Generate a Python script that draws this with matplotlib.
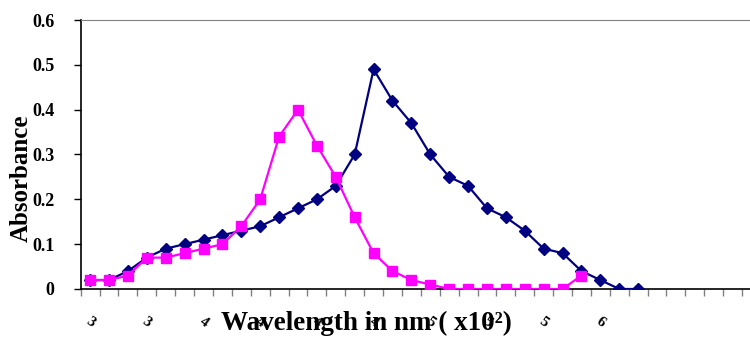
import matplotlib.pyplot as plt

plt.rcParams['font.family'] = 'Liberation Serif'
plt.rcParams['font.weight'] = 'bold'

# absorbance readings, one per wavelength step
serie_azul = [0.02, 0.02, 0.04, 0.07, 0.09, 0.10, 0.11, 0.12, 0.13, 0.14,
              0.16, 0.18, 0.20, 0.23, 0.30, 0.49, 0.42, 0.37, 0.30, 0.25,
              0.23, 0.18, 0.16, 0.13, 0.09, 0.08, 0.04, 0.02, 0.0, 0.0]
serie_rosa = [0.02, 0.02, 0.03, 0.07, 0.07, 0.08, 0.09, 0.10, 0.14, 0.20,
              0.34, 0.40, 0.32, 0.25, 0.16, 0.08, 0.04, 0.02, 0.01, 0.0,
              0.0, 0.0, 0.0, 0.0, 0.0, 0.0, 0.03]
n_categorias = 36
rotulos_x = ['3', '3', '4', '4', '4', '4', '5', '5', '5', '6']
y_ticks = [0, 0.1, 0.2, 0.3, 0.4, 0.5, 0.6]
y_labels = ['0', '0.1', '0.2', '0.3', '0.4', '0.5', '0.6']

fig = plt.figure(figsize=(7.5, 3.39), dpi=100)
ax = fig.add_axes([0.1076, 0.1475, 0.907, 0.7935])

x_azul = [i + 0.5 for i in range(len(serie_azul))]
x_rosa = [i + 0.5 for i in range(len(serie_rosa))]

ax.plot(x_azul, serie_azul, color='#000080', marker='D', markersize=6,
        linewidth=1.6, zorder=3)
ax.plot(x_rosa, serie_rosa, color='#FF00FF', marker='s', markersize=6.5,
        linewidth=1.6, zorder=4)

ax.set_xlim(0, n_categorias)
ax.set_ylim(0, 0.6)

ax.set_yticks(y_ticks)
ax.set_yticklabels(y_labels, fontsize=13, fontweight='bold')

# category boundaries as ticks, labels every third category
ax.set_xticks(range(n_categorias + 1))
ax.set_xticklabels([])
ax.tick_params(axis='x', direction='out', length=5, color='#808080', width=1)
ax.tick_params(axis='y', direction='out', length=5, width=1, pad=14)

for k, r in enumerate(rotulos_x):
    ax.text(k * 3 + 0.5, -0.075, r, rotation=-35, ha='center', va='center',
            fontsize=11, fontweight='bold', zorder=1, clip_on=False)

ax.spines['left'].set_linewidth(1.2)
ax.spines['bottom'].set_linewidth(1.2)
ax.spines['top'].set_color('#808080')
ax.spines['right'].set_visible(False)

fig.text(0.029, 0.475, 'Absorbance', fontsize=18, fontweight='bold',
         rotation=90, ha='center', va='center')
fig.text(0.489, 0.045, 'Wavelength in nm ( x10²)', fontsize=19.5,
         fontweight='bold', ha='center', va='center', zorder=5)

fig.savefig('out.png', dpi=100)
